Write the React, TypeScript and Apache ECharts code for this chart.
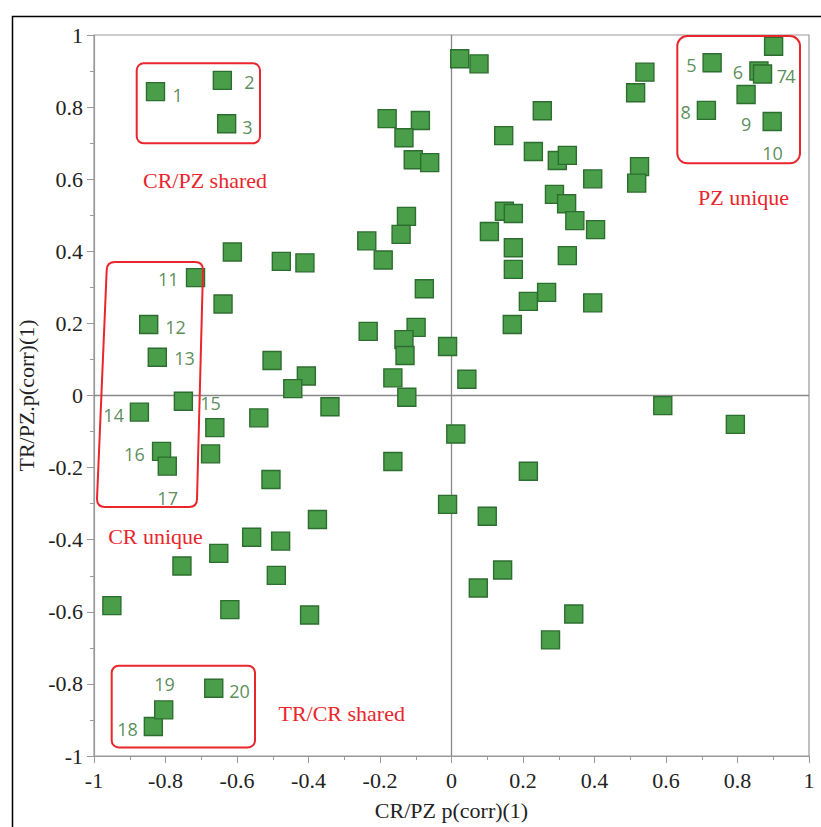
import React, { useEffect, useRef } from "react";
import * as echarts from "echarts";

// Scatter points: [CR/PZ p(corr)(1), TR/PZ p(corr)(1)]
const points: [number, number][] = [
  [-0.828, 0.843], [-0.641, 0.874], [-0.629, 0.754],
  [0.023, 0.934], [0.077, 0.92], [-0.18, 0.768], [-0.087, 0.763], [-0.133, 0.715],
  [-0.107, 0.654], [-0.061, 0.646], [-0.126, 0.497], [-0.141, 0.447], [-0.237, 0.429],
  [-0.191, 0.376], [-0.41, 0.368], [-0.476, 0.372], [-0.613, 0.398], [-0.076, 0.296],
  [-0.716, 0.327], [-0.639, 0.254], [-0.233, 0.178], [-0.099, 0.189], [-0.133, 0.155],
  [-0.13, 0.111], [-0.011, 0.136], [-0.847, 0.197], [-0.823, 0.106], [-0.502, 0.097],
  [-0.406, 0.054], [-0.444, 0.019], [-0.164, 0.049], [-0.125, -0.005], [-0.34, -0.031],
  [0.043, 0.045], [-0.75, -0.016], [-0.873, -0.046], [-0.539, -0.062], [-0.662, -0.089],
  [-0.674, -0.162], [-0.811, -0.155], [-0.795, -0.196], [0.012, -0.107], [-0.164, -0.183],
  [0.215, -0.21], [-0.505, -0.233], [-0.011, -0.302], [0.1, -0.335], [-0.375, -0.344],
  [-0.559, -0.393], [-0.478, -0.404], [-0.651, -0.438], [-0.754, -0.473], [-0.49, -0.499],
  [-0.95, -0.583], [-0.62, -0.594], [-0.397, -0.609], [0.143, -0.484], [0.075, -0.534],
  [0.342, -0.606], [0.277, -0.678], [0.591, -0.028], [0.794, -0.08],
  [0.254, 0.79], [0.146, 0.721], [0.229, 0.677], [0.296, 0.652], [0.324, 0.666],
  [0.395, 0.601], [0.526, 0.635], [0.518, 0.589], [0.541, 0.897], [0.515, 0.84],
  [0.288, 0.558], [0.322, 0.532], [0.345, 0.485], [0.403, 0.46], [0.148, 0.511],
  [0.173, 0.505], [0.106, 0.455], [0.173, 0.41], [0.173, 0.35], [0.324, 0.388],
  [0.266, 0.286], [0.215, 0.261], [0.395, 0.257], [0.17, 0.197],
  [0.901, 0.969], [0.729, 0.923], [0.86, 0.9], [0.87, 0.892], [0.824, 0.835],
  [0.713, 0.791], [0.897, 0.76],
  [-0.834, -0.918], [-0.805, -0.872], [-0.665, -0.812],
];

// Numbered annotation labels (text position in data units)
const labelText = ["1", "2", "3", "4", "5", "6", "7", "8", "9", "10", "11", "12", "13", "14", "15", "16", "17", "18", "19", "20"];
const labelX = [-0.766, -0.565, -0.571, 0.948, 0.671, 0.801, 0.924, 0.655, 0.824, 0.898, -0.792, -0.772, -0.747, -0.945, -0.674, -0.887, -0.794, -0.906, -0.803, -0.593];
const labelY = [0.834, 0.871, 0.746, 0.887, 0.918, 0.896, 0.885, 0.787, 0.752, 0.674, 0.322, 0.191, 0.105, -0.053, -0.022, -0.161, -0.283, -0.926, -0.8, -0.819];

const groupNames = ["CR/PZ shared", "PZ unique", "CR unique", "TR/CR shared"];

const RED = "#e8262c";
const SERIF = "Liberation Serif";

let registered = false;
function registerShapes() {
  if (registered) return;
  registered = true;
  const d =
    "M 18 0 L 98 0 Q 106 0 106 8 L 100 237 Q 100 245 92 245 L 8 245 Q 0 245 0 237 L 9.7 8 Q 10 0 18 0 Z";
  echarts.graphic.registerShape("crBox", echarts.graphic.extendPath(d, {}) as any);
}

export default function App() {
  const ref = useRef<HTMLDivElement>(null);
  useEffect(() => {
    if (!ref.current) return;
    registerShapes();
    const chart = echarts.init(ref.current, undefined, { renderer: "svg" });
    const axisGray = "#999999";
    const option: any = {
      animation: false,
      backgroundColor: "#ffffff",
      textStyle: { fontFamily: SERIF },
      grid: { left: 94, right: 12, top: 35, bottom: 71, show: true, borderColor: axisGray, borderWidth: 1.2 },
      xAxis: {
        type: "value",
        min: -1,
        max: 1,
        interval: 0.2,
        name: "CR/PZ p(corr)(1)",
        nameLocation: "middle",
        nameGap: 43,
        nameTextStyle: { fontFamily: SERIF, fontSize: 22, color: "#222" },
        axisLine: { show: true, onZero: false, lineStyle: { color: axisGray, width: 1.2 } },
        axisTick: { show: true, length: 7, lineStyle: { color: axisGray } },
        minorTick: { show: true, splitNumber: 2, length: 4, lineStyle: { color: axisGray } },
        splitLine: { show: false },
        axisLabel: { fontFamily: SERIF, fontSize: 22, color: "#222", margin: 13 },
      },
      yAxis: {
        type: "value",
        min: -1,
        max: 1,
        interval: 0.2,
        name: "TR/PZ.p(corr)(1)",
        nameLocation: "middle",
        nameGap: 50,
        nameTextStyle: { fontFamily: SERIF, fontSize: 22, color: "#222" },
        axisLine: { show: true, onZero: false, lineStyle: { color: axisGray, width: 1.2 } },
        axisTick: { show: true, length: 7, lineStyle: { color: axisGray } },
        minorTick: { show: true, splitNumber: 2, length: 4, lineStyle: { color: axisGray } },
        splitLine: { show: false },
        axisLabel: { fontFamily: SERIF, fontSize: 22, color: "#222", margin: 11 },
      },
      series: [
        {
          type: "line",
          data: [[0, -1], [0, 1]],
          symbol: "none",
          z: 1,
          silent: true,
          lineStyle: { color: "#888", width: 1.3 },
        },
        {
          type: "line",
          data: [[-1, 0], [1, 0]],
          symbol: "none",
          z: 1,
          silent: true,
          lineStyle: { color: "#888", width: 1.3 },
        },
        {
          type: "scatter",
          data: points,
          symbol: "rect",
          symbolSize: 18,
          z: 3,
          itemStyle: { color: "#4a9e4a", borderColor: "#2c6e2e", borderWidth: 1.4, opacity: 1 },
        },
        {
          type: "scatter",
          data: labelText.map((t, i) => ({ value: [labelX[i], labelY[i]], name: t })),
          symbolSize: 0,
          z: 4,
          silent: true,
          label: {
            show: true,
            position: "inside",
            formatter: (p: any) => p.name,
            fontFamily: "Open Sans",
            fontSize: 18,
            color: "#2f6f30",
          },
        },
      ],
      graphic: [
        {
          type: "rect",
          left: 10,
          top: 14,
          shape: { x: 0, y: 0, width: 840, height: 840 },
          style: { fill: "none", stroke: "#000", lineWidth: 1.5 },
          silent: true,
          z: 0,
        },
        {
          type: "rect",
          shape: { x: 136.7, y: 63.3, width: 123.3, height: 80, r: 7 },
          style: { fill: "none", stroke: RED, lineWidth: 2 },
          z: 10,
        },
        {
          type: "rect",
          shape: { x: 677.3, y: 36, width: 122.7, height: 127.3, r: 10 },
          style: { fill: "none", stroke: RED, lineWidth: 2 },
          z: 10,
        },
        {
          type: "crBox",
          x: 97,
          y: 262,
          style: { fill: "none", stroke: RED, lineWidth: 2 },
          z: 10,
        },
        {
          type: "rect",
          shape: { x: 111.7, y: 665.7, width: 143.3, height: 81.7, r: 7 },
          style: { fill: "none", stroke: RED, lineWidth: 2 },
          z: 10,
        },
        {
          type: "text",
          x: 205,
          y: 180,
          style: { text: groupNames[0], fill: RED, font: `22px ${SERIF}`, textAlign: "center", textVerticalAlign: "middle" },
          z: 10,
        },
        {
          type: "text",
          x: 743.5,
          y: 197,
          style: { text: groupNames[1], fill: RED, font: `22px ${SERIF}`, textAlign: "center", textVerticalAlign: "middle" },
          z: 10,
        },
        {
          type: "text",
          x: 155.5,
          y: 536,
          style: { text: groupNames[2], fill: RED, font: `22px ${SERIF}`, textAlign: "center", textVerticalAlign: "middle" },
          z: 10,
        },
        {
          type: "text",
          x: 341.7,
          y: 713,
          style: { text: groupNames[3], fill: RED, font: `22px ${SERIF}`, textAlign: "center", textVerticalAlign: "middle" },
          z: 10,
        },
      ],
    };
    chart.setOption(option);
    return () => chart.dispose();
  }, []);
  return (
    <div
      ref={ref}
      style={{ position: "absolute", left: 0, top: 0, width: 821, height: 827, background: "#fff" }}
    />
  );
}
